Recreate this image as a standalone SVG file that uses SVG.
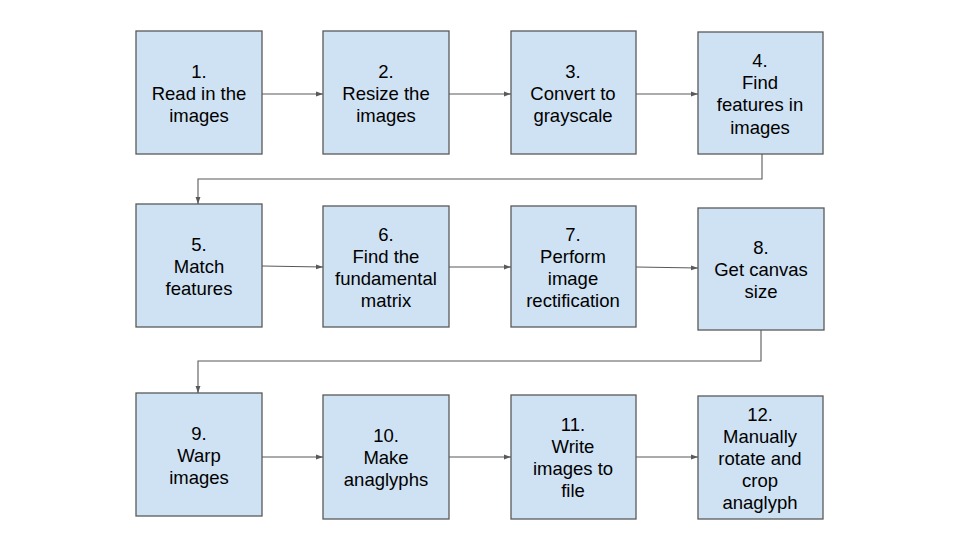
<svg xmlns="http://www.w3.org/2000/svg" width="960" height="540" viewBox="0 0 960 540">
<style>
.box{fill:#cfe2f3;stroke:#595959;stroke-width:1.3}
.t{font-family:"Liberation Sans",Arial,sans-serif;font-size:18.5px;fill:#000;text-anchor:middle}
.c{fill:none;stroke:#595959;stroke-width:1.1}
</style>
<defs>
<marker id="ah" viewBox="0 0 10 10" refX="10" refY="5" markerWidth="7" markerHeight="7" markerUnits="userSpaceOnUse" orient="auto">
<path d="M0,1.5 L10,5 L0,8.5 z" fill="#595959"/>
</marker>
</defs>
<rect width="960" height="540" fill="#fff"/>
<g id="connectors">
<path class="c" d="M262,94 L323,94" marker-end="url(#ah)"/>
<path class="c" d="M449,94 L511,94" marker-end="url(#ah)"/>
<path class="c" d="M636,94 L698,94" marker-end="url(#ah)"/>
<path class="c" d="M762,154 L762,179 L198,179 L198,204" marker-end="url(#ah)"/>
<path class="c" d="M262,266 L323,267" marker-end="url(#ah)"/>
<path class="c" d="M449,267 L511,267" marker-end="url(#ah)"/>
<path class="c" d="M636,267 L698,268" marker-end="url(#ah)"/>
<path class="c" d="M761,330 L761,361 L198,361 L198,393" marker-end="url(#ah)"/>
<path class="c" d="M262,457 L323,457" marker-end="url(#ah)"/>
<path class="c" d="M449,457 L511,457" marker-end="url(#ah)"/>
<path class="c" d="M636,457 L698,457" marker-end="url(#ah)"/>
</g>
<g id="n1"><rect class="box" x="136" y="31" width="126" height="123"/>
<text class="t" x="199" y="78">1.</text><text class="t" x="199" y="100">Read in the</text><text class="t" x="199" y="122">images</text></g>
<g id="n2"><rect class="box" x="323" y="31" width="126" height="123"/>
<text class="t" x="386" y="78">2.</text><text class="t" x="386" y="100">Resize the</text><text class="t" x="386" y="122">images</text></g>
<g id="n3"><rect class="box" x="511" y="31" width="125" height="123"/>
<text class="t" x="573" y="78">3.</text><text class="t" x="573" y="100">Convert to</text><text class="t" x="573" y="122">grayscale</text></g>
<g id="n4"><rect class="box" x="698" y="32" width="125" height="122"/>
<text class="t" x="760" y="67">4.</text><text class="t" x="760" y="89">Find</text><text class="t" x="760" y="111">features in</text><text class="t" x="760" y="134">images</text></g>
<g id="n5"><rect class="box" x="136" y="204" width="126" height="123"/>
<text class="t" x="199" y="251">5.</text><text class="t" x="199" y="273">Match</text><text class="t" x="199" y="295">features</text></g>
<g id="n6"><rect class="box" x="323" y="206" width="126" height="121"/>
<text class="t" x="386" y="241">6.</text><text class="t" x="386" y="263">Find the</text><text class="t" x="386" y="285">fundamental</text><text class="t" x="386" y="307">matrix</text></g>
<g id="n7"><rect class="box" x="511" y="206" width="125" height="121"/>
<text class="t" x="573" y="241">7.</text><text class="t" x="573" y="263">Perform</text><text class="t" x="573" y="285">image</text><text class="t" x="573" y="307">rectification</text></g>
<g id="n8"><rect class="box" x="698" y="208" width="126" height="122"/>
<text class="t" x="761" y="254">8.</text><text class="t" x="761" y="276">Get canvas</text><text class="t" x="761" y="298">size</text></g>
<g id="n9"><rect class="box" x="136" y="393" width="126" height="123"/>
<text class="t" x="199" y="440">9.</text><text class="t" x="199" y="462">Warp</text><text class="t" x="199" y="484">images</text></g>
<g id="n10"><rect class="box" x="323" y="395" width="126" height="124"/>
<text class="t" x="386" y="442">10.</text><text class="t" x="386" y="464">Make</text><text class="t" x="386" y="486">anaglyphs</text></g>
<g id="n11"><rect class="box" x="511" y="395" width="125" height="124"/>
<text class="t" x="573" y="431">11.</text><text class="t" x="573" y="453">Write</text><text class="t" x="573" y="475">images to</text><text class="t" x="573" y="497">file</text></g>
<g id="n12"><rect class="box" x="698" y="396" width="125" height="123"/>
<text class="t" x="760" y="421">12.</text><text class="t" x="760" y="443">Manually</text><text class="t" x="760" y="465">rotate and</text><text class="t" x="760" y="487">crop</text><text class="t" x="760" y="509">anaglyph</text></g>
</svg>
